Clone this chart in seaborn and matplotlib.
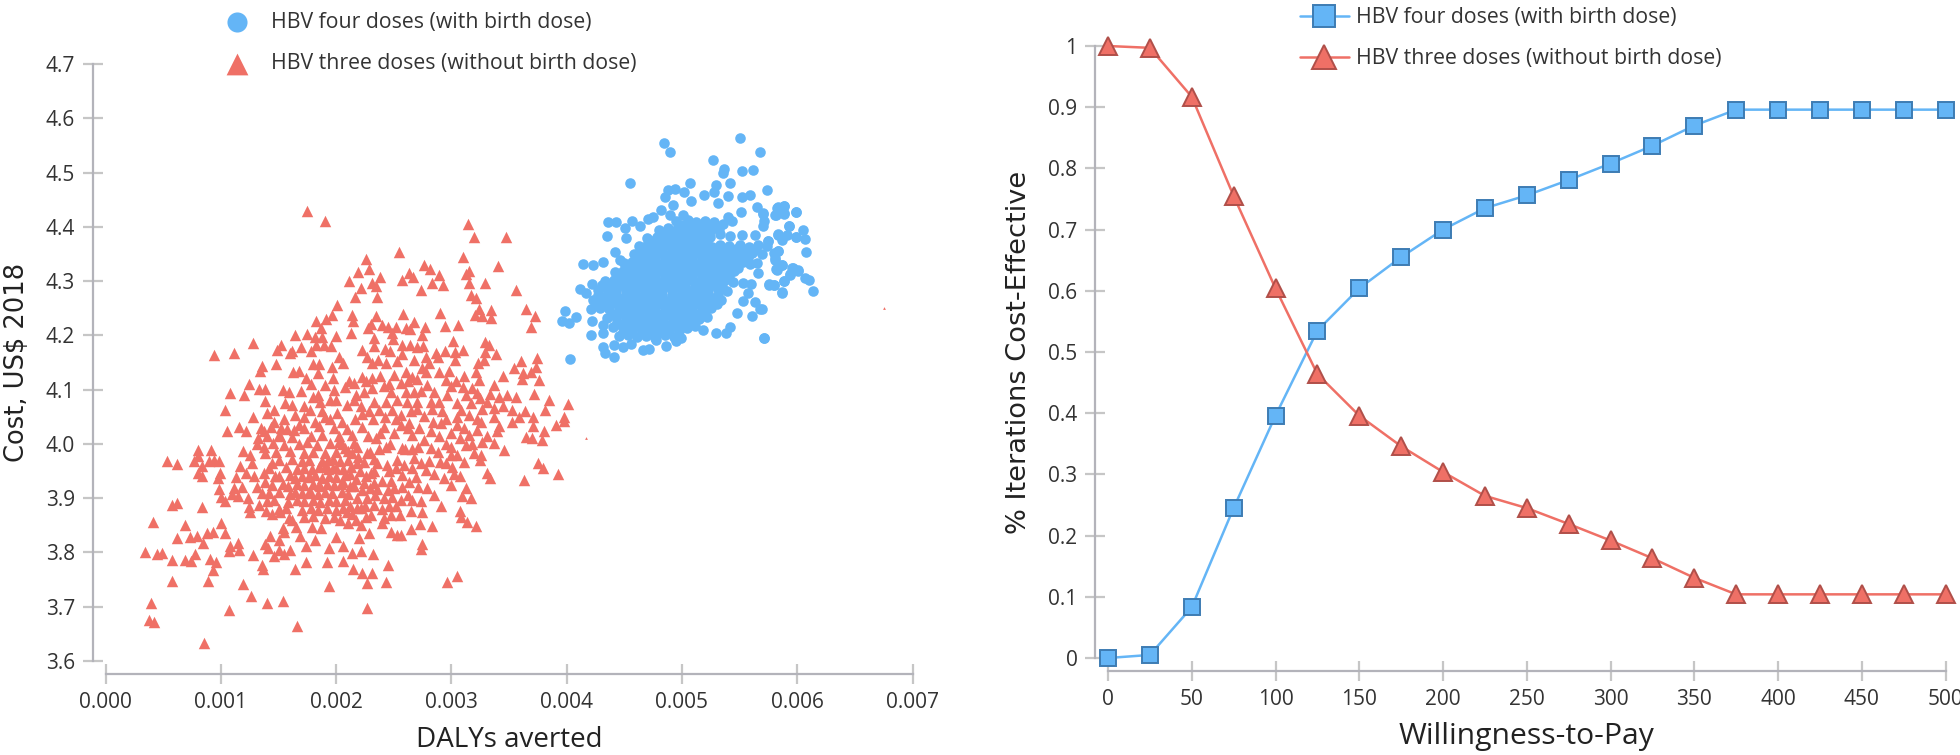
import matplotlib
matplotlib.use("Agg")
import matplotlib.pyplot as plt
import pandas as pd
import seaborn as sns

FOUR_LABEL = "HBV four doses (with birth dose)"
THREE_LABEL = "HBV three doses (without birth dose)"

# (DALYs averted x 1000, cost)
three_doses = [
    (1.75,4.43),(1.907,4.41),(2.11,4.30),(2.01,4.256),(1.965,4.238),(1.915,4.23),(1.825,4.227),(1.866,4.214),
    (1.643,4.20),(1.747,4.203),(1.814,4.197),(1.875,4.197),(1.994,4.198),(1.278,4.186),(1.521,4.182),(1.115,4.168),
    (0.936,4.163),(1.486,4.173),(1.614,4.172),(1.60,4.167),(1.692,4.178),(1.779,4.172),(1.825,4.182),(1.898,4.182),
    (1.959,4.181),(1.478,4.148),(1.353,4.144),(1.338,4.134),(1.625,4.133),(1.675,4.134),(1.802,4.147),(1.849,4.148),
    (2.023,4.161),(2.057,4.149),(1.965,4.141),(1.843,4.13),(1.738,4.121),(1.973,4.122),(1.243,4.111),(1.779,4.11),
    (1.907,4.109),(2.11,4.115),(2.08,4.104),(1.081,4.093),(1.196,4.09),(1.327,4.102),(1.385,4.102),(1.539,4.1),
    (1.594,4.095),(1.692,4.098),(1.979,4.1),(1.799,4.087),(1.031,4.062),(1.385,4.079),(1.559,4.076),(1.617,4.072),
    (1.863,4.078),(1.95,4.081),(2.095,4.072),(1.457,4.063),(1.40,4.057),(1.278,4.05),(1.643,4.053),(1.776,4.063),
    (1.878,4.06),(2.008,4.057),(1.718,4.05),(1.90,4.05),
    (3.141,4.405),(3.194,4.381),(3.469,4.382),(2.547,4.354),(3.101,4.345),(2.257,4.34),(2.762,4.329),(3.408,4.327),
    (2.817,4.322),(2.286,4.322),(2.19,4.317),(2.634,4.314),(2.895,4.311),(3.153,4.318),(3.124,4.313),(2.379,4.308),
    (2.669,4.307),(2.573,4.302),(3.153,4.296),(3.295,4.297),(2.834,4.296),(2.307,4.296),(2.344,4.291),(2.927,4.292),
    (2.214,4.287),(2.738,4.283),(3.556,4.283),(3.173,4.275),(3.214,4.268),(2.159,4.271),(2.35,4.27),(3.243,4.249),
    (3.347,4.246),(3.643,4.248),(2.901,4.241),(2.579,4.239),(3.208,4.238),(3.263,4.236),(3.724,4.236),(2.341,4.236),
    (2.138,4.238),(2.147,4.227),(3.344,4.232),(2.675,4.225),(2.304,4.221),(3.057,4.219),(2.941,4.217),(2.77,4.216),
    (3.692,4.216),(2.396,4.219),(2.451,4.216),(2.515,4.215),(2.275,4.213),(2.602,4.213),(2.64,4.211),(2.486,4.204),
    (2.741,4.201),(2.124,4.204),(2.327,4.195),(2.492,4.193),(3.011,4.19),(3.292,4.187),(3.324,4.183),(2.573,4.183),
    (2.64,4.182),(2.756,4.18),(2.704,4.178),(2.327,4.181),(2.42,4.175),(2.22,4.173),(3.104,4.173),(2.466,4.172),
    (2.941,4.172),(3.031,4.17),(3.289,4.17),(2.573,4.166),(2.869,4.167),(3.385,4.166),(2.675,4.155),(2.883,4.16),
    (2.776,4.161),(3.031,4.155),(3.283,4.155),(3.231,4.15),(3.741,4.158),(3.602,4.152),(2.269,4.161),(2.307,4.149),
    (2.362,4.154),(2.428,4.15),(2.53,4.152),(2.805,4.149),(3.544,4.139),(3.733,4.141),(3.211,4.133),(3.692,4.133),
    (3.617,4.13),(3.443,4.126),(3.11,4.126),(2.892,4.132),(2.776,4.133),(2.501,4.127),(2.602,4.133),(2.66,4.124),
    (2.225,4.124),(2.312,4.121),(3.608,4.119),(3.756,4.118),(3.24,4.117),(2.956,4.117),(3.043,4.115),(2.791,4.109),
    (3.37,4.109),(2.414,4.106),(2.153,4.112),(2.559,4.112),(3.182,4.103),(3.0,4.106),(2.312,4.103),(2.733,4.098),
    (3.124,4.09),(3.219,4.093),(3.331,4.092),(3.414,4.087),(3.486,4.09),(3.559,4.086),(3.715,4.092),(3.843,4.081),
    (2.472,4.096),(2.602,4.096),(2.675,4.096),(2.24,4.096),(2.53,4.081),(2.617,4.078),(2.704,4.078),(2.82,4.078),
    (2.892,4.078),(3.052,4.075),(3.312,4.078),(4.008,4.074),(2.153,4.081),(2.327,4.078),(2.428,4.078),(2.211,4.069),
    (3.443,4.07),(3.37,4.066),(3.269,4.064),(3.08,4.063),(2.915,4.06),(2.828,4.064),(2.646,4.06),(2.486,4.063),
    (2.37,4.063),(2.283,4.06),(3.524,4.063),(3.637,4.06),(3.814,4.063),(3.153,4.054),(3.709,4.049),(3.979,4.049),
    (2.559,4.054),(2.762,4.052),(3.37,4.05),(3.588,4.05),(3.052,4.05),
    (1.052,4.024),(1.153,4.031),(1.22,4.023),(1.37,4.023),(1.515,4.014),(0.805,3.988),(0.915,3.989),(1.191,3.987),
    (0.53,3.969),(0.62,3.963),(0.77,3.968),(0.805,3.978),(0.892,3.968),(0.941,3.971),(0.982,3.968),(0.834,3.96),
    (1.168,3.96),(1.254,3.98),(1.385,3.983),(1.443,3.965),(1.269,3.965),(0.805,3.946),(0.834,3.941),(0.994,3.946),
    (0.973,3.937),(1.217,3.946),(1.13,3.939),(1.283,3.941),(1.37,3.946),(0.979,3.916),(1.109,3.919),(1.182,3.92),
    (1.312,3.92),(1.095,3.908),(1.144,3.904),(1.002,3.902),(1.037,3.895),(1.231,3.9),(0.579,3.888),(0.62,3.892),
    (0.837,3.884),(1.246,3.884),(1.254,3.874),(1.327,3.888),(1.394,3.877),(1.515,3.874),(1.588,3.863),(0.408,3.857),
    (0.999,3.855),(0.689,3.85),(1.536,3.845),(1.651,3.846),(1.791,3.847),(1.872,3.845),(1.037,3.836),(1.544,3.837),
    (1.689,3.83),(0.927,3.838),(0.878,3.835),(0.791,3.831),(0.733,3.828),(0.617,3.826),(1.428,3.83),(1.501,3.823),
    (1.82,3.823),(2.0,3.828),(0.843,3.817),(1.081,3.812),(1.147,3.817),(1.385,3.816),(1.736,3.812),(1.941,3.808),
    (2.057,3.811),(1.405,3.808),(1.501,3.805),(1.066,3.802),(1.153,3.804),(1.597,3.804),(0.339,3.80),(0.449,3.798),
    (0.486,3.799),(0.776,3.798),(1.278,3.796),(1.457,3.794),(1.544,3.798),(0.579,3.787),(0.689,3.787),(0.736,3.784),
    (0.907,3.788),(0.959,3.782),(1.741,3.782),(1.921,3.782),(2.057,3.784),(1.359,3.777),(1.365,3.769),(1.646,3.77),
    (0.933,3.767),(0.886,3.748),(0.579,3.747),(1.941,3.739),(1.191,3.742),(1.257,3.719),(0.394,3.706),(1.399,3.707),
    (1.539,3.71),(1.066,3.694),(0.373,3.675),(0.42,3.671),(1.663,3.665),(0.849,3.634),
    (3.921,3.945),(3.628,3.934),(3.791,3.955),(3.753,3.965),(3.307,3.946),(3.336,3.937),(3.124,3.919),(3.173,3.90),
    (3.089,3.904),(2.994,3.924),(3.072,3.94),(2.939,3.937),(2.785,3.919),(3.075,3.877),(3.086,3.866),(3.138,3.857),
    (3.211,3.849),(2.828,3.848),(2.727,3.853),(2.652,3.843),(2.747,3.874),(2.646,3.876),(2.738,3.894),(2.66,3.897),
    (2.849,3.906),(2.907,3.886),(2.559,3.833),(2.472,3.837),(2.53,3.833),(2.283,3.836),(2.211,3.851),(2.741,3.816),
    (2.736,3.806),(2.321,3.797),(2.449,3.776),(2.147,3.769),(2.228,3.763),(2.312,3.762),(2.428,3.746),(2.266,3.743),
    (3.052,3.757),(2.965,3.745),(2.263,3.697),(2.211,3.802),(2.196,3.827),(2.138,3.799),(2.573,3.943),(2.695,3.939),
    (2.776,3.952),(2.901,3.966),(3.11,3.966),(3.008,3.958),(2.66,3.955),(3.196,3.983),(3.254,3.98),(3.246,3.97),
    (2.994,3.98),(3.452,3.988),(3.37,4.001),(3.13,3.998),(3.269,4.003),(3.646,4.012),(3.698,4.011),(3.785,4.008),
    (3.799,4.023),(3.394,4.023),(3.307,4.015),(3.153,4.017),(3.22,4.026),(3.414,4.033),(3.704,4.033),(3.907,4.035),
    (3.979,4.043),(3.524,4.041),(2.762,4.008),(2.82,3.992),(2.994,3.995),(2.892,4.014),(2.994,4.02),(2.82,4.023),
    (2.66,4.017),(2.501,4.02),(2.341,4.011),(2.225,4.032),(2.414,4.032),(2.559,4.035),(2.631,4.038),(3.052,4.035),
    (2.907,4.038),(3.254,4.041),(2.573,3.992),(2.66,3.99),(2.428,3.995),(2.53,3.971),(2.675,3.974),(2.733,3.965),
    (2.805,3.968),(2.443,3.962),(2.356,3.965),(2.269,3.983),(2.182,3.995),(2.182,3.965),(2.298,3.946),(2.24,3.928),
    (2.327,3.928),(2.399,3.931),(2.472,3.931),(2.501,3.919),(2.356,3.916),(2.153,3.922),(2.414,3.90),(2.486,3.902),
    (2.559,3.897),(2.269,3.90),(2.182,3.90),(2.211,3.882),(2.304,3.869),(2.399,3.88),(2.515,3.885),(2.553,3.869),
    (2.472,3.869),(2.414,3.863),(2.399,3.854),(2.12,3.885),(2.17,3.86),
    (1.35,4.03),(1.43,4.032),(1.57,4.028),(1.72,4.03),(1.85,4.033),(1.98,4.03),(2.09,4.028),(1.40,4.015),(1.50,4.016),
    (1.62,4.013),(1.78,4.015),(1.88,4.017),(2.02,4.014),(2.14,4.016),(1.31,4.0),(1.45,4.002),(1.55,3.998),(1.68,4.0),
    (1.75,4.003),(1.83,3.998),(1.95,4.001),(2.05,3.999),(2.15,4.002),(1.48,3.985),(1.60,3.987),(1.72,3.984),(1.80,3.986),
    (1.90,3.983),(2.0,3.985),(2.10,3.987),(1.50,3.97),(1.62,3.972),(1.70,3.968),(1.76,3.971),(1.88,3.969),(1.97,3.972),
    (2.03,3.968),(2.10,3.971),(1.42,3.955),(1.56,3.957),(1.66,3.953),(1.72,3.956),(1.79,3.954),(1.85,3.957),(1.93,3.953),
    (2.0,3.956),(2.06,3.954),(2.13,3.957),(1.50,3.94),(1.60,3.942),(1.64,3.938),(1.70,3.941),(1.76,3.939),(1.82,3.942),
    (1.88,3.938),(1.94,3.941),(2.0,3.939),(2.08,3.942),(1.44,3.925),(1.54,3.927),(1.58,3.923),(1.66,3.926),(1.72,3.924),
    (1.80,3.927),(1.86,3.923),(1.92,3.926),(1.98,3.924),(2.04,3.927),(2.12,3.923),(1.42,3.91),(1.50,3.912),(1.60,3.908),
    (1.64,3.911),(1.70,3.909),(1.76,3.912),(1.84,3.908),(1.90,3.911),(1.96,3.909),(2.05,3.912),(2.10,3.908),(1.40,3.895),
    (1.46,3.897),(1.58,3.893),(1.66,3.896),(1.72,3.894),(1.80,3.897),(1.86,3.893),(1.94,3.896),(2.0,3.894),(2.08,3.897),
    (1.50,3.88),(1.56,3.882),(1.70,3.878),(1.78,3.881),(1.84,3.879),(1.92,3.882),(2.0,3.878),(2.06,3.881),(1.72,3.865),
    (1.80,3.867),(1.90,3.863),(1.98,3.866),(1.76,3.94),(1.93,3.97),(1.97,3.955),(1.90,3.96),(1.85,3.925),(1.78,3.91),
    # denser part of the cloud
    (2.02,4.003),(2.08,3.992),(2.14,3.983),(2.19,3.976),(2.24,3.966),(2.29,3.985),(2.33,3.972),(2.37,3.99),(2.21,3.95),
    (2.26,3.94),(2.33,3.95),(2.17,3.935),(2.12,3.945),(2.06,3.93),(2.22,3.915),(2.29,3.918),(2.34,3.905),(2.18,3.882),
    (2.25,3.885),(2.33,3.888),(2.09,3.875),(2.14,3.87),(2.03,3.86),(2.1,3.855),(2.26,3.865),(2.46,3.95),(2.52,3.955),
    (2.59,3.962),(2.45,3.915),(2.57,3.92),(2.63,3.93),(2.71,3.92),(2.62,3.905),(2.46,3.885),(2.6,3.99),(2.71,3.995),
    (2.88,3.985),(2.95,4.0),(3.05,3.98),(3.07,4.01),(3.18,4.0),(3.22,4.045),(3.11,4.03),(2.72,4.03),(2.47,4.0),(2.38,4.02),
    (2.28,4.015),(2.16,4.045),(2.22,4.055),(2.32,4.045),(2.42,4.05),(2.52,4.045),(2.62,4.03),(2.7,4.065),(2.95,4.045),
    (2.84,4.04),(2.05,4.04),(1.95,4.045),(1.82,4.04),(1.68,4.035),(1.55,4.045),(1.46,4.04),(1.72,4.07),(1.84,4.09),
    (2.0,4.08),(2.17,4.09),(2.26,4.115),(2.38,4.125),(2.46,4.11),(2.62,4.115),(2.7,4.12),(2.85,4.095),(2.96,4.09),
    (3.1,4.105),(3.17,4.075),(3.25,4.085),(2.98,4.135),(2.74,4.14),(2.95,3.965),(3.02,3.945),(2.85,3.945),
    (1.52,4.03),(1.63,4.025),(1.37,3.995),(1.32,4.01),(1.38,3.93),(1.47,3.94),(1.36,3.91),(1.44,3.87),(1.62,3.86),
]

four_doses = [
    (5.505,4.564),(4.844,4.554),(4.896,4.537),(5.681,4.537),(5.27,4.523),(5.365,4.507),(5.357,4.499),(5.519,4.503),
    (5.62,4.504),(4.551,4.48),(5.067,4.48),(5.418,4.48),(5.296,4.477),(5.736,4.467),(4.878,4.468),(4.942,4.469),
    (5.018,4.464),(4.852,4.455),(5.278,4.465),(5.191,4.459),(5.40,4.457),(5.591,4.458),(5.525,4.455),(5.081,4.447),
    (4.919,4.44),(5.313,4.444),(5.647,4.437),(5.884,4.439),(5.829,4.436),(5.986,4.428),(5.516,4.428),(4.82,4.431),
    (5.887,4.424),(5.815,4.421),(5.702,4.424),(4.893,4.422),(5.009,4.422),(5.40,4.419),(4.748,4.419),(4.705,4.414),
    (4.357,4.409),(4.429,4.408),(4.568,4.411),(4.635,4.402),(5.435,4.41),(5.713,4.411),(5.357,4.405),(5.925,4.401),
    (5.702,4.401),(4.502,4.397),(4.351,4.383),(5.328,4.386),(5.415,4.384),(5.522,4.385),(5.632,4.385),(5.829,4.385),
    (5.907,4.385),(5.989,4.381),(4.516,4.379),(5.748,4.373),(5.835,4.356),(4.42,4.354),(5.806,4.342),(4.145,4.331),
    (4.229,4.329),(4.316,4.335),(4.458,4.338),(5.647,4.333),(5.864,4.33),(5.951,4.324),(6.009,4.321),(5.823,4.321),
    (5.661,4.315),(5.936,4.313),(5.887,4.30),(4.119,4.285),(4.218,4.294),(4.163,4.278),(5.757,4.293),(5.797,4.293),
    (5.528,4.296),(5.603,4.295),(5.574,4.278),(5.864,4.278),(5.528,4.264),(5.632,4.261),(5.676,4.248),(5.473,4.242),
    (5.609,4.235),(3.986,4.245),(4.081,4.234),(3.963,4.227),(4.023,4.223),(4.22,4.226),(4.313,4.219),(4.212,4.20),
    (4.313,4.204),(5.415,4.216),(5.299,4.204),(5.386,4.204),(5.183,4.21),(4.994,4.195),(5.71,4.195),(4.951,4.189),
    (4.864,4.181),(4.777,4.192),(4.661,4.173),(4.71,4.175),(4.56,4.184),(4.487,4.179),(4.409,4.183),(4.313,4.179),
    (4.328,4.167),(4.409,4.161),(4.032,4.157),
    (5.884,4.438),(5.826,4.434),(5.806,4.422),(5.887,4.425),(5.986,4.427),(5.704,4.425),(5.928,4.402),(6.052,4.395),
    (6.067,4.378),(5.989,4.381),(5.829,4.386),(5.864,4.376),(5.748,4.373),(6.073,4.353),(5.835,4.356),(5.80,4.352),
    (5.806,4.339),(5.87,4.33),(5.965,4.324),(6.009,4.319),(5.82,4.322),(5.936,4.311),(6.067,4.305),(6.102,4.302),
    (5.887,4.30),(5.754,4.294),(5.80,4.292),(5.864,4.279),(6.136,4.282),(5.69,4.248),(5.713,4.196),
    (4.95,4.41),(5.05,4.412),(5.12,4.408),(5.20,4.411),(5.28,4.409),(4.80,4.395),(4.88,4.397),(4.95,4.394),(5.03,4.396),
    (5.10,4.393),(5.18,4.397),(5.25,4.394),(5.32,4.396),(4.70,4.38),(4.78,4.382),(4.86,4.379),(4.94,4.381),(5.02,4.378),
    (5.10,4.382),(5.18,4.379),(5.24,4.381),(4.63,4.365),(4.70,4.367),(4.78,4.364),(4.86,4.366),(4.94,4.363),(5.02,4.367),
    (5.10,4.364),(5.18,4.366),(5.26,4.363),(5.33,4.367),(5.41,4.364),(5.50,4.366),(5.58,4.363),(5.66,4.367),(5.74,4.364),
    (4.58,4.35),(4.65,4.352),(4.73,4.349),(4.81,4.351),(4.89,4.348),(4.97,4.352),(5.05,4.349),(5.13,4.351),(5.21,4.348),
    (5.29,4.352),(5.37,4.349),(5.45,4.351),(5.53,4.348),(5.61,4.352),(5.69,4.349),(4.50,4.333),(4.57,4.335),(4.65,4.332),
    (4.73,4.334),(4.81,4.331),(4.89,4.335),(4.97,4.332),(5.05,4.334),(5.13,4.331),(5.21,4.335),(5.29,4.332),(5.37,4.334),
    (5.45,4.331),(5.53,4.335),(5.59,4.332),(4.42,4.316),(4.49,4.318),(4.57,4.315),(4.65,4.317),(4.73,4.314),(4.81,4.318),
    (4.89,4.315),(4.97,4.317),(5.05,4.314),(5.13,4.318),(5.21,4.315),(5.29,4.317),(5.37,4.314),(5.45,4.318),(4.33,4.30),
    (4.41,4.302),(4.49,4.299),(4.57,4.301),(4.65,4.298),(4.73,4.302),(4.81,4.299),(4.89,4.301),(4.97,4.298),(5.05,4.302),
    (5.13,4.299),(5.21,4.301),(5.29,4.298),(5.37,4.302),(5.44,4.299),(4.27,4.283),(4.35,4.285),(4.43,4.282),(4.51,4.284),
    (4.59,4.281),(4.67,4.285),(4.75,4.282),(4.83,4.284),(4.91,4.281),(4.99,4.285),(5.07,4.282),(5.15,4.284),(5.23,4.281),
    (5.31,4.285),(5.39,4.282),(4.23,4.266),(4.31,4.268),(4.39,4.265),(4.47,4.267),(4.55,4.264),(4.63,4.268),(4.71,4.265),
    (4.79,4.267),(4.87,4.264),(4.95,4.268),(5.03,4.265),(5.11,4.267),(5.19,4.264),(5.27,4.268),(5.34,4.265),(4.21,4.249),
    (4.29,4.251),(4.37,4.248),(4.45,4.25),(4.53,4.247),(4.61,4.251),(4.69,4.248),(4.77,4.25),(4.85,4.247),(4.93,4.251),
    (5.01,4.248),(5.09,4.25),(5.17,4.247),(5.25,4.251),(4.35,4.232),(4.43,4.234),(4.51,4.231),(4.59,4.233),(4.67,4.23),
    (4.75,4.234),(4.83,4.231),(4.91,4.233),(4.99,4.23),(5.07,4.234),(5.15,4.231),(5.22,4.233),(4.40,4.215),(4.48,4.217),
    (4.56,4.214),(4.64,4.216),(4.72,4.213),(4.80,4.217),(4.88,4.214),(4.96,4.216),(5.04,4.213),(5.11,4.217),(4.45,4.198),
    (4.53,4.20),(4.61,4.197),(4.69,4.199),(4.77,4.196),(4.85,4.20),(4.93,4.197),
    # inside of the solid blob
    (4.99,4.403),(5.07,4.404),(5.15,4.402),(5.23,4.403),(4.84,4.388),(4.92,4.389),(5.0,4.387),(5.08,4.388),(5.16,4.389),
    (5.22,4.387),(4.74,4.373),(4.82,4.372),(4.9,4.374),(4.98,4.372),(5.06,4.373),(5.14,4.372),(5.22,4.374),(4.67,4.358),
    (4.75,4.357),(4.83,4.359),(4.91,4.357),(4.99,4.358),(5.07,4.357),(5.15,4.359),(5.23,4.357),(5.31,4.358),(5.39,4.357),
    (5.47,4.359),(5.55,4.357),(5.63,4.358),(4.61,4.342),(4.69,4.341),(4.77,4.343),(4.85,4.341),(4.93,4.342),(5.01,4.341),
    (5.09,4.343),(5.17,4.341),(5.25,4.342),(5.33,4.341),(5.41,4.343),(5.49,4.341),(5.57,4.342),(4.53,4.325),(4.61,4.324),
    (4.69,4.326),(4.77,4.324),(4.85,4.325),(4.93,4.324),(5.01,4.326),(5.09,4.324),(5.17,4.325),(5.25,4.324),(5.33,4.326),
    (5.41,4.324),(5.49,4.325),(4.45,4.309),(4.53,4.308),(4.61,4.31),(4.69,4.308),(4.77,4.309),(4.85,4.308),(4.93,4.31),
    (5.01,4.308),(5.09,4.309),(5.17,4.308),(5.25,4.31),(5.33,4.308),(5.41,4.309),(4.31,4.292),(4.39,4.291),(4.47,4.293),
    (4.55,4.291),(4.63,4.292),(4.71,4.291),(4.79,4.293),(4.87,4.291),(4.95,4.292),(5.03,4.291),(5.11,4.293),(5.19,4.291),
    (5.27,4.292),(5.35,4.291),(4.27,4.275),(4.35,4.274),(4.43,4.276),(4.51,4.274),(4.59,4.275),(4.67,4.274),(4.75,4.276),
    (4.83,4.274),(4.91,4.275),(4.99,4.274),(5.07,4.276),(5.15,4.274),(5.23,4.275),(5.31,4.274),(4.27,4.258),(4.35,4.257),
    (4.43,4.259),(4.51,4.257),(4.59,4.258),(4.67,4.257),(4.75,4.259),(4.83,4.257),(4.91,4.258),(4.99,4.257),(5.07,4.259),
    (5.15,4.257),(5.23,4.258),(5.3,4.257),(4.39,4.24),(4.47,4.241),(4.55,4.239),(4.63,4.24),(4.71,4.241),(4.79,4.239),
    (4.87,4.24),(4.95,4.241),(5.03,4.239),(5.11,4.24),(5.19,4.241),(4.44,4.224),(4.52,4.223),(4.6,4.225),(4.68,4.223),
    (4.76,4.224),(4.84,4.223),(4.92,4.225),(5.0,4.223),(5.08,4.224),(4.49,4.207),(4.57,4.206),(4.65,4.208),(4.73,4.206),
    (4.81,4.207),(4.89,4.206),(4.97,4.208),
]

# clipped fragments left in the picture
stray_three = [(6.754,4.251),(4.17,4.01)]

cost_ticks = [3.6, 3.7, 3.8, 3.9, 4.0, 4.1, 4.2, 4.3, 4.4, 4.5, 4.6, 4.7]
daly_ticks = [0.0, 0.001, 0.002, 0.003, 0.004, 0.005, 0.006, 0.007]

wtp = [0, 25, 50, 75, 100, 125, 150, 175, 200, 225, 250, 275, 300, 325, 350, 375, 400, 425, 450, 475, 500]
ce_four = [0, 0.005, 0.083, 0.245, 0.396, 0.535, 0.604, 0.655, 0.70, 0.735, 0.756, 0.781, 0.808, 0.837, 0.87,
           0.896, 0.896, 0.896, 0.896, 0.896, 0.896]
ce_three = [1, 0.997, 0.917, 0.755, 0.604, 0.464, 0.396, 0.346, 0.304, 0.265, 0.245, 0.219, 0.192, 0.163, 0.131,
            0.104, 0.104, 0.104, 0.104, 0.104, 0.104]
ce_ticks = [0, 0.1, 0.2, 0.3, 0.4, 0.5, 0.6, 0.7, 0.8, 0.9, 1]
ce_tick_labels = ["0", "0.1", "0.2", "0.3", "0.4", "0.5", "0.6", "0.7", "0.8", "0.9", "1"]
wtp_ticks = [0, 50, 100, 150, 200, 250, 300, 350, 400, 450, 500]

BLUE = "#64b5f6"
RED = "#ef7066"
BLUE_EDGE = "#3d7cb3"
RED_EDGE = "#b04f49"
AXIS = "#b3b3ba"
TICK = "#c6c6c6"
TEXT = "#333333"

W, H = 1960, 755
sns.set_theme(style="white")
plt.rcParams["font.family"] = ["Open Sans", "DejaVu Sans"]


def px_axes(fig, left, right, top, bottom):
    return fig.add_axes([left / W, 1 - bottom / H, (right - left) / W, (bottom - top) / H], facecolor="none")


def style_axis(ax):
    sns.despine(ax=ax)
    for side in ["left", "bottom"]:
        ax.spines[side].set_position(("outward", 9.5))
        ax.spines[side].set_color(AXIS)
        ax.spines[side].set_linewidth(1.6)
    ax.tick_params(axis="both", direction="inout", length=15, width=1.6, color=TICK, labelcolor=TEXT,
                   labelsize=15, pad=5, left=True, bottom=True)


fig = plt.figure(figsize=(W / 100, H / 100), dpi=100)

# cost-effectiveness plane
ax1 = px_axes(fig, 105.7, 912.5, 64, 661)
three_df = pd.DataFrame(three_doses, columns=["dalys", "cost"])
four_df = pd.DataFrame(four_doses, columns=["dalys", "cost"])
stray_df = pd.DataFrame(stray_three, columns=["dalys", "cost"])
for df in [three_df, four_df, stray_df]:
    df["dalys"] = df["dalys"] / 1000
sns.scatterplot(data=four_df, x="dalys", y="cost", ax=ax1, marker="o", s=58, color=BLUE, linewidth=0,
                label=FOUR_LABEL, zorder=3)
sns.scatterplot(data=three_df, x="dalys", y="cost", ax=ax1, marker="^", s=68, color=RED, linewidth=0,
                label=THREE_LABEL, zorder=3)
sns.scatterplot(data=stray_df, x="dalys", y="cost", ax=ax1, marker="^", s=4, color=RED, linewidth=0,
                legend=False, zorder=3)
ax1.set_xlim(0, 0.007)
ax1.set_ylim(3.6, 4.7)
ax1.set_xticks(daly_ticks, [f"{v:.3f}" for v in daly_ticks])
ax1.set_yticks(cost_ticks, [f"{v:.1f}" for v in cost_ticks])
style_axis(ax1)
ax1.set_xlabel("DALYs averted", fontsize=20, color="#222222", labelpad=10)
ax1.set_ylabel("Cost, US$ 2018", fontsize=18.5, color="#222222", family="DejaVu Sans", labelpad=11)
ax1.legend(loc="upper left", bbox_to_anchor=(216 / W, 1 - 12 / H), bbox_transform=fig.transFigure, frameon=False,
           fontsize=15.3, markerscale=1.9, labelspacing=0.95, borderpad=0, borderaxespad=0, handletextpad=0.6,
           labelcolor=TEXT)

# acceptability curve
ax2 = px_axes(fig, 1108, 1945.5, 46, 658)
curve_df = pd.DataFrame({"wtp": wtp, "four": ce_four, "three": ce_three})
sns.lineplot(data=curve_df, x="wtp", y="four", ax=ax2, color=BLUE, linewidth=1.8, marker="s", markersize=11.5,
             markerfacecolor=BLUE, markeredgecolor=BLUE_EDGE, markeredgewidth=1.4, label=FOUR_LABEL, clip_on=False)
sns.lineplot(data=curve_df, x="wtp", y="three", ax=ax2, color=RED, linewidth=1.8, marker="^", markersize=12.5,
             markerfacecolor=RED, markeredgecolor=RED_EDGE, markeredgewidth=1.4, label=THREE_LABEL, clip_on=False)
ax2.set_xlim(0, 500)
ax2.set_ylim(0, 1)
ax2.set_xticks(wtp_ticks)
ax2.set_yticks(ce_ticks, ce_tick_labels)
style_axis(ax2)
ax2.set_xlabel("Willingness-to-Pay", fontsize=21.7, color="#222222", labelpad=9)
ax2.set_ylabel("% Iterations Cost-Effective", fontsize=19.6, color="#222222", family="DejaVu Sans", labelpad=12)
ax2.legend(loc="upper left", bbox_to_anchor=(1300 / W, 1 - 7 / H), bbox_transform=fig.transFigure, frameon=False,
           fontsize=15.3, markerscale=1.35, labelspacing=0.95, borderpad=0, borderaxespad=0, handlelength=2.3,
           handletextpad=0.35, labelcolor=TEXT)

fig.savefig("out.png", dpi=100, facecolor="white")
